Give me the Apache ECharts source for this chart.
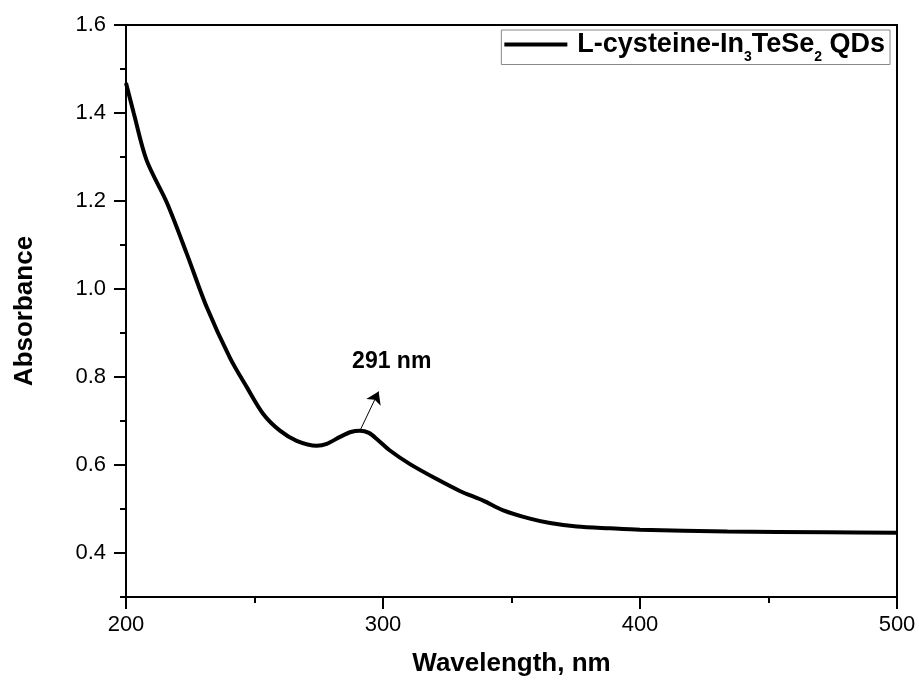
<!DOCTYPE html>
<html>
<head>
<meta charset="utf-8">
<script src="https://cdn.jsdelivr.net/npm/echarts@6/dist/echarts.min.js"></script>
<style>html,body{margin:0;padding:0;background:#fff}#c{width:919px;height:684px}</style>
</head>
<body>
<div id="c"></div>
<script>
const wavelength = [200, 203, 208, 216, 223.6, 231.4, 240.5, 247, 253.4, 259.9, 266.4, 274.2, 278.1, 283.3, 287.5, 291, 294.5, 298, 302.7, 310.5, 320.9, 329.9, 339, 346.8, 357.2, 365, 375.4, 388.3, 400, 434, 473, 500];
const absorbance = [1.468, 1.400, 1.293, 1.195, 1.081, 0.959, 0.843, 0.777, 0.716, 0.678, 0.655, 0.644, 0.648, 0.664, 0.675, 0.678, 0.673, 0.657, 0.633, 0.602, 0.568, 0.541, 0.519, 0.497, 0.478, 0.468, 0.460, 0.456, 0.453, 0.449, 0.447, 0.446];
const yMajorTicks = [0.4, 0.6, 0.8, 1.0, 1.2, 1.4, 1.6];
const seriesName = 'L-cysteine-In{sub|3}TeSe{sub|2} QDs';
const peakLabel = '291 nm';
const arrowStart = [291.2, 0.680];
const arrowEnd = [298.3, 0.767];
const labelPos = [303.4, 0.834];

const FONT = 'Liberation Sans, Arial, sans-serif';
const chart = echarts.init(document.getElementById('c'));
chart.setOption({
  animation: false,
  grid: { left: 126, right: 22, top: 25, bottom: 87, show: true, borderColor: '#000', borderWidth: 2, backgroundColor: 'transparent' },
  legend: {
    data: [{ name: seriesName, icon: 'rect' }],
    top: 30, right: 29,
    padding: [1, 5, 0, 3],
    borderColor: '#888', borderWidth: 1,
    itemWidth: 63, itemHeight: 4,
    itemStyle: { color: '#000' },
    formatter: function (n) { return '{m|' + n.replace(/\{sub\|(\d)\}/g, '}{sub|$1}{m|') + '}'; },
    textStyle: {
      padding: [0, 0, 0, 5],
      rich: {
        m: { fontSize: 27, fontWeight: 'bold', fontFamily: FONT, color: '#000', lineHeight: 40 },
        sub: { fontSize: 14, fontWeight: 'bold', fontFamily: FONT, color: '#000', lineHeight: 8, verticalAlign: 'bottom' }
      }
    }
  },
  xAxis: {
    type: 'value', min: 200, max: 500, interval: 100,
    name: 'Wavelength, nm', nameLocation: 'middle', nameGap: 54,
    nameTextStyle: { fontSize: 26, fontWeight: 'bold', fontFamily: FONT, color: '#000' },
    axisLine: { show: true, onZero: false, lineStyle: { color: '#000', width: 2 } },
    axisTick: { show: true, length: 12, lineStyle: { color: '#000', width: 2 } },
    minorTick: { show: true, splitNumber: 2, length: 6, lineStyle: { color: '#000', width: 2 } },
    axisLabel: { fontSize: 22, fontFamily: FONT, color: '#000', margin: 17 },
    splitLine: { show: false }
  },
  yAxis: [{
    type: 'value', min: 0.3, max: 1.6, interval: 0.1,
    name: 'Absorbance', nameLocation: 'middle', nameGap: 88, nameRotate: 90,
    nameTextStyle: { fontSize: 26, fontWeight: 'bold', fontFamily: FONT, color: '#000' },
    axisLine: { show: true, onZero: false, lineStyle: { color: '#000', width: 2 } },
    axisTick: { show: true, length: 12, customValues: yMajorTicks, lineStyle: { color: '#000', width: 2 } },
    axisLabel: { fontSize: 22, fontFamily: FONT, color: '#000', margin: 20, customValues: yMajorTicks, formatter: v => v.toFixed(1) },
    splitLine: { show: false }
  }, {
    type: 'value', min: 0.3, max: 1.6, interval: 0.1, position: 'left',
    axisLine: { show: false },
    axisTick: { show: true, length: 6, lineStyle: { color: '#000', width: 2 } },
    axisLabel: { show: false },
    splitLine: { show: false }
  }],
  series: [{
    name: seriesName, type: 'line', yAxisIndex: 0,
    data: wavelength.map((w, i) => [w, absorbance[i]]),
    symbol: 'none', smooth: 0.3,
    lineStyle: { color: '#000', width: 4 },
    itemStyle: { color: '#000' },
    markLine: {
      silent: true, symbol: ['none', 'arrow'], symbolSize: 12,
      label: { show: false },
      lineStyle: { color: '#000', width: 1, type: 'solid' },
      data: [[{ coord: arrowStart }, { coord: arrowEnd }]]
    },
    markPoint: {
      silent: true, symbol: 'circle', symbolSize: 0,
      label: { show: true, position: 'inside', formatter: peakLabel, fontSize: 23, fontWeight: 'bold', fontFamily: FONT, color: '#000' },
      data: [{ coord: labelPos }]
    }
  }]
});
</script>
</body>
</html>
